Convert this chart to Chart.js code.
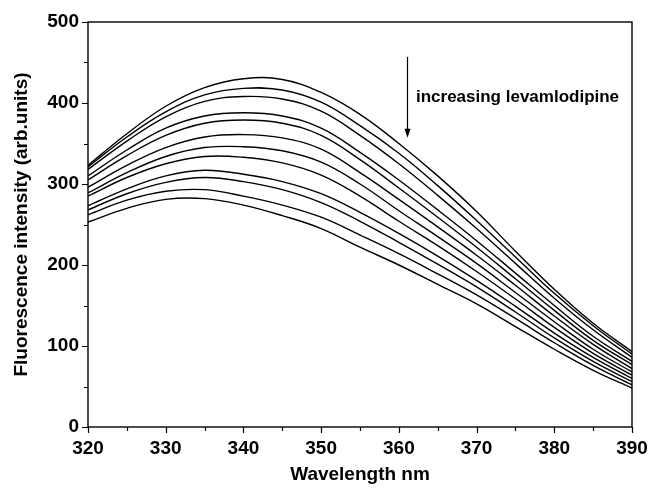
<!DOCTYPE html>
<html>
<head>
<meta charset="utf-8">
<script src="https://cdn.jsdelivr.net/npm/chart.js@4"></script>
<style>
  html, body { margin: 0; padding: 0; background: #fff; }
  #wrap { width: 648px; height: 490px; }
</style>
</head>
<body>
<div id="wrap"><canvas id="spectraChart" width="648" height="490"></canvas></div>
<script>
const wavelengths = [320, 325, 330, 335, 340, 345, 350, 355, 360, 365, 370, 375, 380, 385, 390];

// emission spectra, from no drug (top) to most levamlodipine (bottom)
const curve01 = [323, 362, 396, 419, 430, 429, 413, 386, 350, 310, 266, 217, 170, 128, 93];
const curve02 = [321, 358, 389, 410, 418, 416, 401, 372, 338, 298, 255, 210, 165, 125, 90];
const curve03 = [318, 353, 383, 402, 408, 405, 390, 360, 325, 286, 245, 202, 159, 120, 86];
const curve04 = [310, 342, 369, 384, 388, 384, 369, 339, 305, 268, 230, 190, 150, 112, 81];
const curve05 = [305, 335, 360, 375, 379, 375, 360, 330, 295, 259, 222, 183, 144, 107, 77];
const curve06 = [296, 323, 345, 358, 361, 357, 343, 314, 281, 247, 212, 175, 137, 102, 72];
const curve07 = [289, 314, 334, 345, 346, 341, 327, 300, 267, 235, 202, 166, 130, 96, 68];
const curve08 = [285, 308, 325, 334, 333, 326, 311, 285, 254, 224, 192, 158, 123, 91, 64];
const curve09 = [273, 294, 310, 317, 312, 303, 288, 265, 239, 211, 181, 149, 116, 86, 60];
const curve10 = [268, 288, 302, 308, 303, 293, 277, 254, 228, 201, 173, 142, 110, 81, 56];
const curve11 = [262, 280, 291, 293, 285, 274, 259, 237, 214, 189, 163, 134, 104, 76, 52];
const curve12 = [253, 270, 281, 282, 274, 261, 245, 222, 200, 176, 152, 124, 96, 70, 48];

const curves = [curve01, curve02, curve03, curve04, curve05, curve06,
  curve07, curve08, curve09, curve10, curve11, curve12];

const xTicks = [320, 330, 340, 350, 360, 370, 380, 390];
const yTicks = [0, 100, 200, 300, 400, 500];

const FONT = "'Liberation Sans', Arial, sans-serif";

// box frame, outward ticks, arrow + label
const decorPlugin = {
  id: "decor",
  afterDraw(chart) {
    const ctx = chart.ctx;
    const area = chart.chartArea;
    const xs = chart.scales.x;
    const ys = chart.scales.y;
    ctx.save();
    ctx.strokeStyle = "#000";
    ctx.lineWidth = 1.4;
    ctx.strokeRect(area.left, area.top, area.right - area.left, area.bottom - area.top);

    ctx.lineWidth = 1.2;
    ctx.beginPath();
    for (let v = 320; v <= 390; v += 5) {
      const px = Math.round(xs.getPixelForValue(v)) + 0.5;
      const len = v % 10 === 0 ? 6 : 4;
      ctx.moveTo(px, area.bottom);
      ctx.lineTo(px, area.bottom + len);
    }
    for (let v = 0; v <= 500; v += 50) {
      const py = Math.round(ys.getPixelForValue(v)) + 0.5;
      const len = v % 100 === 0 ? 6 : 4;
      ctx.moveTo(area.left, py);
      ctx.lineTo(area.left - len, py);
    }
    ctx.stroke();

    const ax = Math.round(xs.getPixelForValue(361.1)) + 0.5;
    const ay1 = ys.getPixelForValue(457);
    const ay2 = ys.getPixelForValue(357);
    ctx.lineWidth = 1.2;
    ctx.beginPath();
    ctx.moveTo(ax, ay1);
    ctx.lineTo(ax, ay2 - 6);
    ctx.stroke();
    ctx.fillStyle = "#000";
    ctx.beginPath();
    ctx.moveTo(ax, ay2);
    ctx.lineTo(ax - 3, ay2 - 9);
    ctx.lineTo(ax + 3, ay2 - 9);
    ctx.closePath();
    ctx.fill();

    ctx.font = "bold 17px " + FONT;
    ctx.textAlign = "left";
    ctx.textBaseline = "middle";
    ctx.fillText("increasing levamlodipine", xs.getPixelForValue(362.2), ys.getPixelForValue(407));
    ctx.restore();
  },
};

function initializeSpectraChart() {
  const ctx = document.getElementById("spectraChart");

  const datasets = curves.map((values, i) => ({
    label: "spectrum " + (i + 1),
    data: wavelengths.map((w, j) => ({ x: w, y: values[j] })),
    borderColor: "#000",
    borderWidth: 1.4,
    pointRadius: 0,
    fill: false,
    tension: 0.4,
  }));

  new Chart(ctx, {
    type: "line",
    data: { datasets },
    options: {
      responsive: false,
      animation: false,
      layout: { padding: { top: 22, right: 16, left: 0, bottom: 0 } },
      plugins: { legend: { display: false }, tooltip: { enabled: false } },
      scales: {
        x: {
          type: "linear",
          min: 320,
          max: 390,
          afterBuildTicks: (scale) => {
            scale.ticks = xTicks.map((v) => ({ value: v }));
          },
          afterFit: (scale) => {
            scale.height = 63;
            scale.paddingLeft = 0;
            scale.paddingRight = 0;
          },
          grid: { display: false, drawTicks: false },
          border: { display: false },
          ticks: {
            color: "#000",
            padding: 10,
            maxRotation: 0,
            font: { family: FONT, size: 19, weight: "bold" },
          },
          title: {
            display: true,
            text: "Wavelength nm",
            color: "#000",
            padding: { top: 4 },
            font: { family: FONT, size: 19, weight: "bold" },
          },
        },
        y: {
          min: 0,
          max: 500,
          afterBuildTicks: (scale) => {
            scale.ticks = yTicks.map((v) => ({ value: v }));
          },
          afterFit: (scale) => {
            scale.width = 88;
            scale.paddingTop = 0;
            scale.paddingBottom = 0;
          },
          grid: { display: false, drawTicks: false },
          border: { display: false },
          ticks: {
            color: "#000",
            padding: 9,
            font: { family: FONT, size: 19, weight: "bold" },
          },
          title: {
            display: true,
            text: "Fluorescence intensity (arb.units)",
            color: "#000",
            padding: { top: 10, bottom: 2 },
            font: { family: FONT, size: 19, weight: "bold" },
          },
        },
      },
    },
    plugins: [decorPlugin],
  });
}

document.addEventListener("DOMContentLoaded", () => {
  initializeSpectraChart();
});
</script>
</body>
</html>
